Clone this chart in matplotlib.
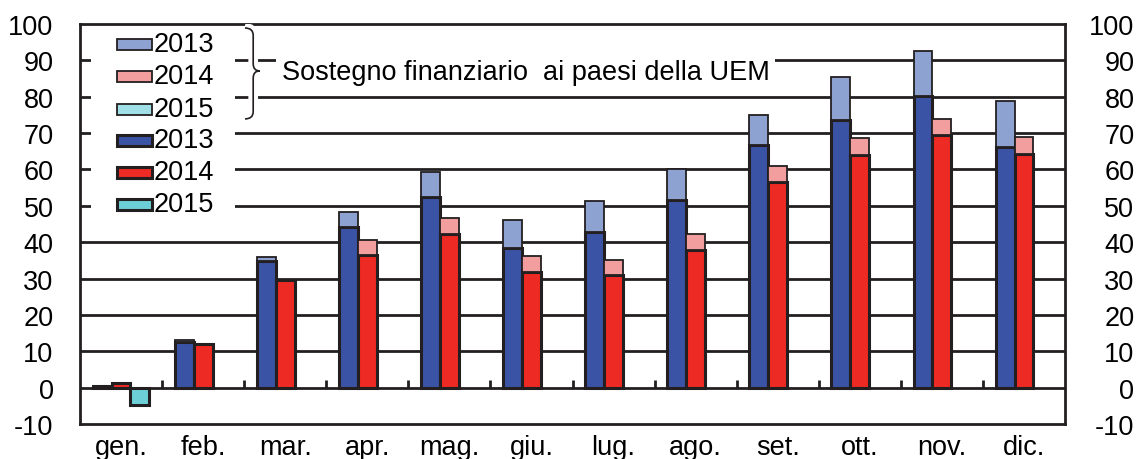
import numpy as np
import matplotlib.pyplot as plt
from matplotlib.patches import Rectangle
from matplotlib.path import Path
from matplotlib.patches import PathPatch
import matplotlib.patheffects as pe

plt.rcParams['font.family'] = ['Liberation Sans', 'DejaVu Sans']
plt.rcParams['axes.unicode_minus'] = False

mesi = ['gen.', 'feb.', 'mar.', 'apr.', 'mag.', 'giu.', 'lug.', 'ago.', 'set.', 'ott.', 'nov.', 'dic.']
# fabbisogno al netto del sostegno + quota sostegno finanziario ai paesi UEM
base2013 = [0.5, 12.5, 34.9, 44.2, 52.3, 38.3, 42.7, 51.6, 66.6, 73.7, 80.3, 66.1]
sost2013 = [0.0, 0.6, 1.1, 4.0, 7.0, 7.9, 8.5, 8.6, 8.5, 11.7, 12.2, 12.6]
base2014 = [1.2, 12.0, 29.5, 36.6, 42.2, 31.8, 30.9, 37.9, 56.5, 64.0, 69.4, 64.3]
sost2014 = [0.0, 0.0, 0.0, 4.0, 4.4, 4.4, 4.2, 4.3, 4.5, 4.6, 4.6, 4.6]
base2015 = [-4.8]
sost2015 = [0.0]
anni = ['2013', '2014', '2015']
testo = 'Sostegno finanziario  ai paesi della UEM'

scuro = '#231f20'
col_pieni = ['#3a53a4', '#ee2a24', '#6ccfd8']
col_chiari = ['#8ea2d2', '#f29e9e', '#9fdfe5']
fs = 19.5

fig = plt.figure(figsize=(11.37, 4.6), dpi=100)
ax = fig.add_axes([80 / 1137, 1 - 425 / 460, 985 / 1137, 400 / 460])

x = np.arange(len(mesi))
w = 0.23
serie = [(base2013, sost2013), (base2014, sost2014), (base2015, sost2015)]
for k, (b, s) in enumerate(serie):
    xx = x[:len(b)] + (k - 1) * w
    ax.bar(xx, b, width=w, color=col_pieni[k], edgecolor=scuro, linewidth=2.2, zorder=3)
    ax.bar(xx, s, width=w, bottom=b, color=col_chiari[k], edgecolor=scuro, linewidth=1.3, zorder=3)

ax.set_xlim(-0.5, 11.5)
ax.set_ylim(-10, 100)
ax.set_yticks(np.arange(-10, 101, 10))
ax.set_xticks(x)
ax.set_xticklabels(mesi)
ax.tick_params(axis='x', length=0, pad=7, labelsize=fs)
ax.tick_params(axis='y', length=0, pad=19, labelsize=fs)
for v in range(0, 100, 10):
    ax.axhline(v, color=scuro, lw=2.0, zorder=1)
ax.vlines(x[:-1] + 0.5, 0, 2.2, color=scuro, lw=2.0, zorder=1)
for sp in ax.spines.values():
    sp.set_linewidth(2.0)
    sp.set_color(scuro)

ax2 = ax.twinx()
ax2.set_ylim(ax.get_ylim())
ax2.set_yticks(np.arange(-10, 101, 10))
ax2.tick_params(axis='y', length=0, pad=50, labelsize=fs)
for t in ax2.get_yticklabels():
    t.set_horizontalalignment('right')
for sp in ax2.spines.values():
    sp.set_visible(False)

# legenda
ax.add_patch(Rectangle((11 / 985, 207 / 400), 144 / 985, 193 / 400, transform=ax.transAxes,
                       facecolor='white', edgecolor='none', zorder=2))
righe = [45, 77.5, 110, 141.5, 173.5, 205.5]
voci = [(col_chiari[i], 1.3, anni[i]) for i in range(3)] + [(col_pieni[i], 2.2, anni[i]) for i in range(3)]
for yp, (c, lw, lab) in zip(righe, voci):
    yf = (425 - yp) / 400
    ax.add_patch(Rectangle((37 / 985, yf - 5.5 / 400), 35 / 985, 11 / 400, transform=ax.transAxes,
                           facecolor=c, edgecolor=scuro, lw=lw, zorder=4))
    ax.text(74 / 985, yf, lab, transform=ax.transAxes, va='center', ha='left', fontsize=fs, zorder=4)

# parentesi graffa
x0, xm, xt = 1.51, 1.61, 1.69
yt, ym, yb = 98.9, 87.1, 73.9
r = 2.0
verts = [(x0, yt), (xm, yt), (xm, yt - r),
         (xm, ym + r),
         (xm, ym), (xt, ym), (xt, ym),
         (xt, ym), (xm, ym), (xm, ym - r),
         (xm, yb + r),
         (xm, yb), (x0, yb), (x0, yb)]
codes = [Path.MOVETO, Path.CURVE3, Path.CURVE3,
         Path.LINETO,
         Path.CURVE3, Path.CURVE3, Path.LINETO,
         Path.MOVETO, Path.CURVE3, Path.CURVE3,
         Path.LINETO,
         Path.CURVE3, Path.CURVE3, Path.LINETO]
brace = PathPatch(Path(verts, codes), facecolor='none', edgecolor=scuro, lw=1.2, zorder=4,
                  path_effects=[pe.Stroke(linewidth=7, foreground='white'), pe.Normal()])
ax.add_patch(brace)
ax.text(1.96, 86.8, testo, fontsize=fs, va='center', ha='left', zorder=4,
        bbox=dict(facecolor='white', edgecolor='none', pad=4))

fig.savefig('out.png', dpi=100)
